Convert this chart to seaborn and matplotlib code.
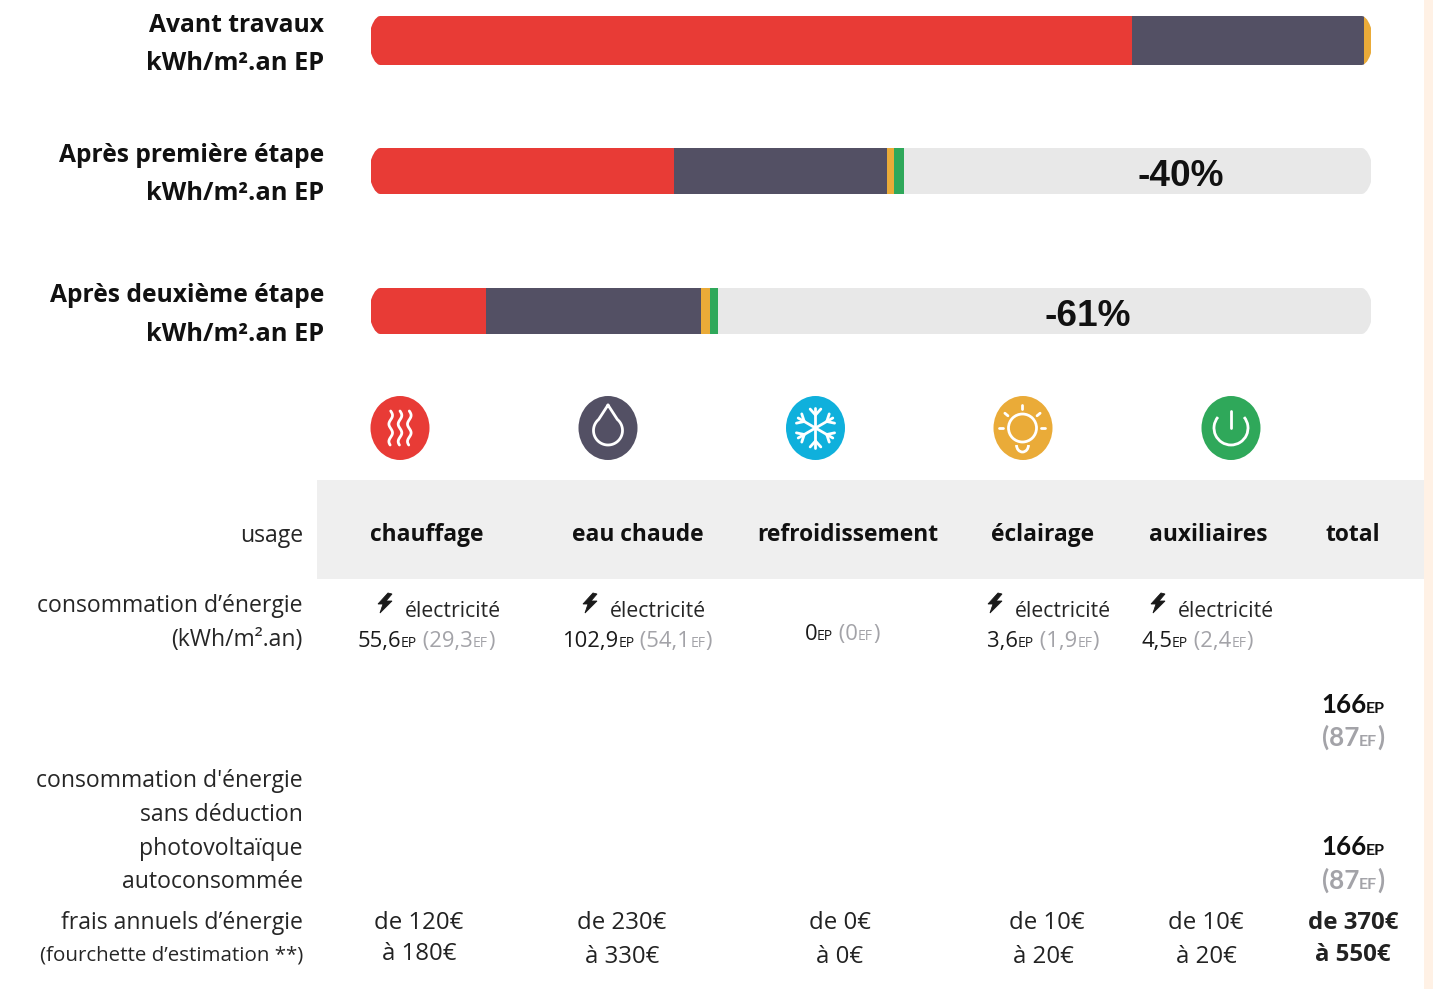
import numpy as np
import pandas as pd
import seaborn as sns
import matplotlib
matplotlib.use("Agg")
import matplotlib.pyplot as plt
from matplotlib.patches import Ellipse, Rectangle, Circle, Polygon, Arc

# ---------------- data ----------------
stage_titles = ["Avant travaux", "Après première étape", "Après deuxième étape"]
stage_unit = "kWh/m².an EP"
stage_gains = ["", "-40%", "-61%"]
heating_share = [76.1, 30.3, 11.5]
hot_water_share = [23.2, 21.3, 21.5]
lighting_share = [0.7, 0.7, 0.9]
auxiliary_share = [0.0, 1.0, 0.8]

usages = ["chauffage", "eau chaude", "refroidissement", "éclairage", "auxiliaires", "total"]
ep_values = ["55,6", "102,9", "0", "3,6", "4,5"]
ef_values = ["29,3", "54,1", "0", "1,9", "2,4"]
cost_low = ["120", "230", "0", "10", "10", "370"]
cost_high = ["180", "330", "0", "20", "20", "550"]
total_ep = "166"
total_ef = "87"

RED, DARK, ORANGE, GREEN, BLUE = "#E83B36", "#535064", "#EAAB38", "#2FA85A", "#0FB0DC"
TRACK = "#E8E8E8"
GREY = "#A3A3A8"
INK = "#1A1A1A"
LABEL = "#262626"

sns.set_theme(style="white")
plt.rcParams["font.family"] = ["Open Sans", "DejaVu Sans"]

W, H = 1433, 989
fig = plt.figure(figsize=(W / 100, H / 100), dpi=100, facecolor="white")
ax = fig.add_axes([0, 0, 1, 1])
ax.set_xlim(0, W)
ax.set_ylim(H, 0)
ax.axis("off")
px = 0.72  # points per pixel


def txt(x, y, s, size, ha="center", weight="normal", color=INK, **kw):
    return ax.text(x, y, s, fontsize=size * px, ha=ha, va="baseline",
                   fontweight=weight, color=color, **kw)


def rich(x, y, parts, ha="center", **kw):
    """Lay out text runs side by side on a shared baseline."""
    r = fig.canvas.get_renderer()
    items, widths = [], []
    for s, size, color, weight in parts:
        t = txt(0, y, s, size, ha="left", weight=weight, color=color, **kw)
        items.append(t)
        widths.append(t.get_window_extent(r).width)
    total = sum(widths)
    cur = x - total / 2 if ha == "center" else x
    for t, w in zip(items, widths):
        t.set_x(cur)
        cur += w


# ---------------- background ----------------
ax.add_patch(Rectangle((1424, 0), 9, H, fc="#FFF1E5", ec="none"))
ax.add_patch(Rectangle((317, 480), 1107, 99, fc="#EFEFEF", ec="none"))

# ---------------- stacked bars ----------------
bar_boxes = [(16, 49), (148, 46), (288, 46)]
seg_colors = [RED, DARK, ORANGE, GREEN]
seg_values = [heating_share, hot_water_share, lighting_share, auxiliary_share]
X0, BW = 371, 1000
corner = [(9, 0), (7, 0.6), (4, 3.5), (1.5, 8), (0, 12)]

for i, (top, h) in enumerate(bar_boxes):
    bax = fig.add_axes([X0 / W, 1 - (top + h) / H, BW / W, h / H], zorder=2)
    bax.patch.set_alpha(0)
    df = pd.DataFrame({"stage": [stage_titles[i]], "part": [100.0]})
    sns.barplot(data=df, x="part", y="stage", orient="h", color=TRACK,
                saturation=1, width=1, linewidth=0, ax=bax)
    left = 0.0
    for vals, col in zip(seg_values, seg_colors):
        v = vals[i]
        if v > 0:
            d = pd.DataFrame({"stage": [stage_titles[i]], "part": [v]})
            sns.barplot(data=d, x="part", y="stage", orient="h", color=col,
                        saturation=1, width=1, left=left, linewidth=0, ax=bax)
        left += v
    bax.set_xlim(0, 100)
    bax.set_ylim(0.5, -0.5)
    bax.axis("off")
    outline = ([(X0 + a, top + b) for a, b in corner]
               + [(X0 + a, top + h - b) for a, b in corner[::-1]]
               + [(X0 + BW - a, top + h - b) for a, b in corner]
               + [(X0 + BW - a, top + b) for a, b in corner[::-1]])
    clip = Polygon(outline, closed=True, transform=ax.transData, fc="none", ec="none")
    for p in bax.patches:
        p.set_snap(False)
        p.set_clip_path(clip)
    if stage_gains[i]:
        cx = 1181 if i == 1 else 1088
        bax.text((cx - X0) / BW * 100, 0.13, stage_gains[i], ha="center", va="center",
                 fontsize=37 * px, fontweight="bold", color="#111111",
                 family=["Liberation Sans"])

title_base = [(32, 70), (162, 200), (302, 341)]
for title, (b1, b2) in zip(stage_titles, title_base):
    txt(324, b1, title, 24.6, ha="right", weight="bold", color="#111111")
    txt(324, b2, stage_unit, 25.4, ha="right", weight="bold", color="#111111")


# ---------------- icons ----------------
def disc(cx, col):
    ax.add_patch(Ellipse((cx, 428), 59, 64, fc=col, ec="none"))


LW = 2.0
W_ = dict(color="white", lw=LW, solid_capstyle="round")
disc(400, RED)
for dx in (-9.3, 0, 9.3):
    yy = np.linspace(411, 445, 60)
    ax.plot(400 + dx + 1.8 * np.sin((yy - 411) / 34 * 3 * np.pi * 1.3), yy, **W_)

disc(608, DARK)
th = np.radians(np.linspace(-50, 230, 60))
dx_, dy_ = 608 + 14.5 * np.cos(th), 430.5 + 14.5 * np.sin(th)
ax.plot(np.r_[608, dx_[::-1], 608], np.r_[405, dy_[::-1], 405], **W_)

disc(815.5, BLUE)
for a in np.radians(np.arange(0, 360, 60) + 90):
    ux, uy = np.cos(a), np.sin(a)
    ax.plot([815.5, 815.5 + 20 * ux], [428, 428 + 20 * uy], **W_)
    for s in (-1, 1):
        b = a + s * np.radians(42)
        ax.plot([815.5 + 13 * ux, 815.5 + 13 * ux + 8 * np.cos(b)],
                [428 + 13 * uy, 428 + 13 * uy + 8 * np.sin(b)], **W_)

disc(1023, ORANGE)
ax.add_patch(Circle((1022.5, 428), 14, fc="none", ec="white", lw=LW))
ax.add_patch(Arc((1022.5, 445), 12, 14, theta1=0, theta2=180, ec="white", lw=LW))
for a in (-180, -140, -90, -40, 0):
    c, s = np.cos(np.radians(a)), np.sin(np.radians(a))
    ax.plot([1022.5 + 19 * c, 1022.5 + 23 * c], [428 + 19 * s, 428 + 23 * s], **W_)

disc(1231, GREEN)
ax.add_patch(Arc((1231, 428), 34, 34, theta1=-40, theta2=220, ec="white", lw=LW))
ax.plot([1231, 1231], [411, 428], **W_)


# ---------------- table ----------------
def bolt(cx, cy):
    pts = np.array([[3, -10], [-7, 1], [-2, 1], [-5, 10], [7, -2], [1, -2], [7, -9]])
    ax.add_patch(Polygon(pts + [cx, cy], fc="#1A1A1A", ec="#1A1A1A", lw=0.6))


SZ = 23
SM = 14
# row headings
txt(303, 542, "usage", SZ, ha="right", color=LABEL)
txt(303, 612, "consommation d’énergie", SZ, ha="right", color=LABEL)
txt(303, 646, "(kWh/m².an)", SZ, ha="right", color=LABEL)
for b, s in zip((787, 821, 855, 888),
                ("consommation d'énergie", "sans déduction", "photovoltaïque", "autoconsommée")):
    txt(303, b, s, SZ, ha="right", color=LABEL)
txt(303, 929, "frais annuels d’énergie", SZ, ha="right", color=LABEL)
txt(303, 960, "(fourchette d’estimation **)", 20.5, ha="right", color=LABEL)

# header band
for u, cx in zip(usages, (427, 638, 848, 1043, 1208, 1353)):
    txt(cx, 541, u, 22.8, weight="bold", color="#111111")

# consumption
val_cx = (426, 637, 842, 1043, 1197)
bolt_x = (385, 590, None, 995, 1158)
elec_cx = (453, 658, None, 1063, 1226)
for ep, ef, vx, bx, ex in zip(ep_values, ef_values, val_cx, bolt_x, elec_cx):
    base = 647
    if bx is None:
        base = 640
    else:
        bolt(bx, 603)
        txt(ex, 617, "électricité", 21.3, color=LABEL)
    rich(vx, base, [(ep, 22, INK, "normal"), ("EP", SM, INK, "normal"),
                    (" (" + ef, 22, GREY, "normal"), ("EF", SM, GREY, "normal"),
                    (")", 22, GREY, "normal")])

# totals
for b1, b2 in ((713, 746), (855, 889)):
    rich(1353, b1, [(total_ep, 26, "#111111", "bold"), ("EP", 16, "#111111", "bold")], family="Lato")
    rich(1353, b2, [("(" + total_ef, 26, GREY, "bold"), ("EF", 16, GREY, "bold"), (")", 26, GREY, "bold")], family="Lato")

# costs
cost_cx = (419, 622, 840, 1047, 1206, 1353)
for j, (lo, hi, cx) in enumerate(zip(cost_low, cost_high, cost_cx)):
    w = "bold" if j == 5 else "normal"
    y2 = 960 if j == 0 else 963
    txt(cx, 929, f"de {lo}€", 24, weight=w, color="#222222")
    txt(cx - (4 if j == 3 else 0), 961 if j == 5 else y2, f"à {hi}€", 24, weight=w, color="#222222")

fig.savefig("out.png", dpi=100, facecolor="white")
